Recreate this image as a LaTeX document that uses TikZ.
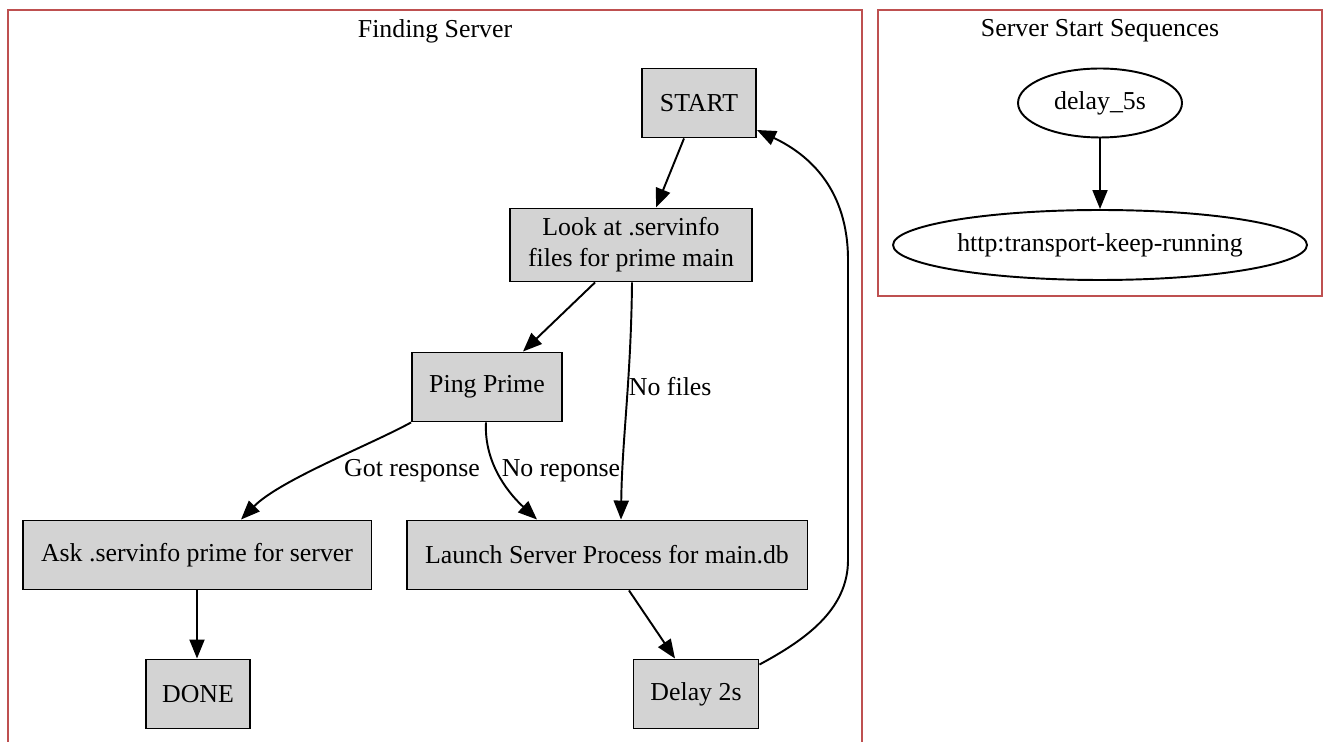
\documentclass[tikz,border=0pt]{standalone}
\usepackage{fontspec}
\setmainfont{Liberation Serif}
\usetikzlibrary{arrows.meta,shapes.geometric}

\definecolor{boxgray}{RGB}{211,211,211}
\definecolor{clusterred}{RGB}{190,80,80}

\begin{document}
\begin{tikzpicture}[x=0.02cm,y=-0.02cm,line width=1.1pt,font=\fontsize{14.7}{17.6}\selectfont]
        % Define styles
        \tikzset{
            box/.style={rectangle, draw, fill=boxgray, minimum height=1.38cm, inner sep=0pt, align=center},
            oval/.style={ellipse, draw, minimum height=1.38cm, inner sep=0pt},
            cluster/.style={draw=clusterred},
            arrow/.style={-{Triangle[length=0.38cm,width=0.3cm]}}
        }
        \useasboundingbox (0,0) rectangle (1327,742);

        % Clusters
        \draw[cluster] (8,742) -- (8,10) -- (862,10) -- (862,742);
        \draw[cluster] (878,10) rectangle (1322,296);
        \node[] (title_find) at (435,31) {Finding Server};
        \node[] (title_seq) at (1100,31) {Server Start Sequences};

        % Nodes
        \node[box, minimum width=2.28cm] (start) at (699,103) {START};
        \node[box, minimum width=4.84cm, minimum height=1.46cm] (look) at (631,245) {Look at .servinfo\\files for prime main};
        \node[box, minimum width=3.0cm] (ping) at (487,387) {Ping Prime};
        \node[box, minimum width=6.98cm] (ask) at (197,555) {Ask .servinfo prime for server};
        \node[box, minimum width=8.02cm] (launch) at (607,555) {Launch Server Process for main.db};
        \node[box, minimum width=2.08cm] (done) at (198,694) {DONE};
        \node[box, minimum width=2.5cm] (delay) at (696,694) {Delay 2s};

        \node[oval, minimum width=3.28cm] (delay_five) at (1100,103) {delay\_5s};
        \node[oval, minimum width=8.28cm, minimum height=1.4cm] (keep_running) at (1100,245) {http:transport-keep-running};

        % Edge labels
        \node[anchor=west, inner sep=0pt] (lbl_files) at (628,387) {No files};
        \node[] (lbl_got) at (412,471) {Got response};
        \node[] (lbl_noresp) at (561,471) {No reponse};

        % Arrows
        \draw[arrow] ([xshift=-0.3cm]start.south) -- ([xshift=0.5cm]look.north);
        \draw[arrow] ([xshift=-0.72cm]look.south) -- ([xshift=0.72cm]ping.north);
        \draw[arrow] ([xshift=0.02cm]look.south) .. controls (631,380) and (622,440) .. ([xshift=0.28cm]launch.north);
        \draw[arrow] (ping.south west) .. controls (370,445) and (280,480) .. ([xshift=0.88cm]ask.north);
        \draw[arrow] ([xshift=-0.02cm]ping.south) .. controls (484,460) and (505,490) .. ([xshift=-1.4cm]launch.north);
        \draw[arrow] (ask.south) -- ([xshift=-0.02cm]done.north);
        \draw[arrow] ([xshift=0.44cm]launch.south) -- ([xshift=-0.42cm]delay.north);
        \draw[arrow] ([yshift=-0.12cm]delay.north east) .. controls (805,640) and (848,610) .. (848,560)
            -- (848,260) .. controls (848,190) and (810,155) .. ([yshift=-0.54cm]start.east);
        \draw[arrow] (delay_five) -- (keep_running);
    \end{tikzpicture}
\end{document}
